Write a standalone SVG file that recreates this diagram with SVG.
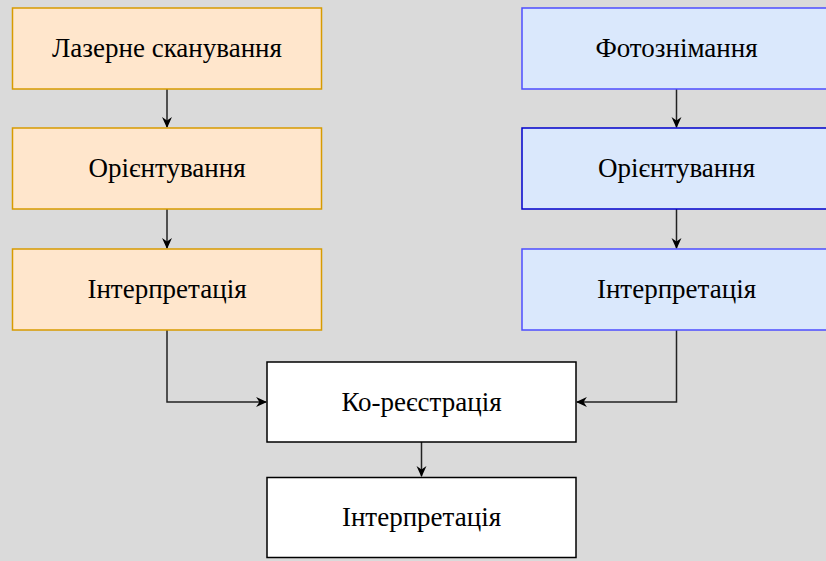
<svg xmlns="http://www.w3.org/2000/svg" width="826" height="561" viewBox="0 0 826 561">
<style>
.bg{fill:#dadada}
.o{fill:#ffe6cc;stroke:#d79b00;stroke-width:1.5}
.b{fill:#dae8fc;stroke:#4d4dff;stroke-width:1.5}
.bd{fill:#dae8fc;stroke:#0000cc;stroke-width:1.5}
.w{fill:#ffffff;stroke:#000000;stroke-width:1.5}
.t{font-size:27px;fill:#000;text-anchor:middle}
.c{fill:none;stroke:#222;stroke-width:1.5}
</style>
<defs>
<marker id="a" viewBox="0 0 10 10" refX="9" refY="5" markerWidth="11" markerHeight="11" markerUnits="userSpaceOnUse" orient="auto">
<path d="M0,0.5 L10,5 L0,9.5 L3,5 Z" fill="#000"/>
</marker>
</defs>
<rect class="bg" x="0" y="0" width="826" height="561"/>
<g id="connectors">
<path class="c" d="M167,89 V127" marker-end="url(#a)"/>
<path class="c" d="M167,209 V248" marker-end="url(#a)"/>
<path class="c" d="M676.5,89 V127" marker-end="url(#a)"/>
<path class="c" d="M676.5,209 V248" marker-end="url(#a)"/>
<path class="c" d="M167,330 V402 H266" marker-end="url(#a)"/>
<path class="c" d="M676.5,330 V402 H577" marker-end="url(#a)"/>
<path class="c" d="M421.5,442 V476" marker-end="url(#a)"/>
</g>
<g font-family="Liberation Serif, Times New Roman, serif">
<g id="n1"><rect class="o" x="12.5" y="8" width="309" height="81"/><text class="t" x="167" y="57">Лазерне сканування</text></g>
<g id="n2"><rect class="o" x="12.5" y="128" width="309" height="81"/><text class="t" x="167" y="177">Орієнтування</text></g>
<g id="n3"><rect class="o" x="12.5" y="249" width="309" height="81"/><text class="t" x="167" y="298">Інтерпретація</text></g>
<g id="n4"><rect class="b" x="522" y="8" width="309" height="81"/><text class="t" x="676.5" y="57">Фотознімання</text></g>
<g id="n5"><rect class="bd" x="522" y="128" width="309" height="81"/><text class="t" x="676.5" y="177">Орієнтування</text></g>
<g id="n6"><rect class="b" x="522" y="249" width="309" height="81"/><text class="t" x="676.5" y="298">Інтерпретація</text></g>
<g id="n7"><rect class="w" x="267" y="362" width="309" height="80"/><text class="t" x="421.5" y="410.5">Ко-реєстрація</text></g>
<g id="n8"><rect class="w" x="267" y="477.5" width="309" height="80"/><text class="t" x="421.5" y="526">Інтерпретація</text></g>
</g>
</svg>
